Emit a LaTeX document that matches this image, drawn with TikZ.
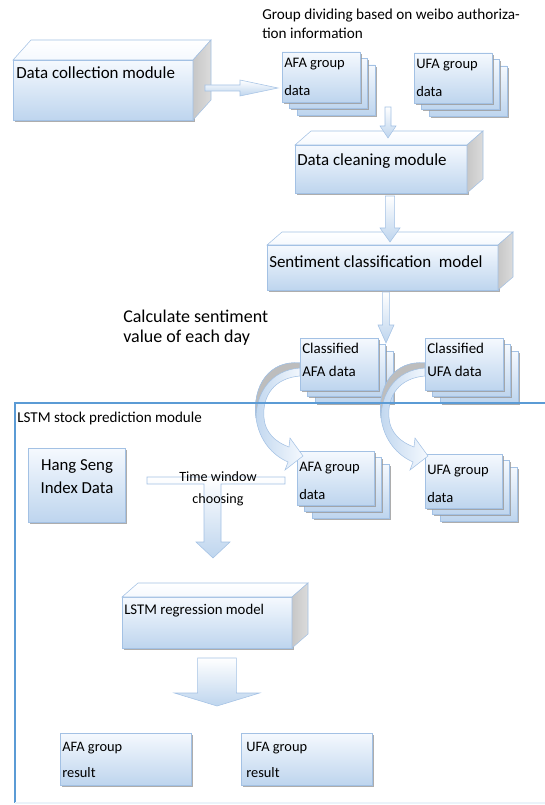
\documentclass[tikz,border=0pt]{standalone}
\usepackage{fontspec}
\setmainfont{Carlito}
\usetikzlibrary{calc,shadows}

\definecolor{boxtop}{HTML}{F5F9FE}
\definecolor{boxbot}{HTML}{BED5EE}
\definecolor{boxline}{HTML}{A3C1E4}
\definecolor{framebl}{HTML}{5B9BD5}
\definecolor{curlgray}{HTML}{BDBDBD}

\newcommand{\bigf}{\fontsize{12.7}{15}\selectfont}
\newcommand{\grpf}{\fontsize{10.9}{21}\selectfont}
\newcommand{\notef}{\fontsize{11.4}{14.25}\selectfont}

\newcommand{\blkarrow}[5]{%
  \coordinate (bah) at ($(#2)!#5!(#1)$) ;
  \draw [blockarrow] ($(#1)!#3!90:(#2)$) -- ($(bah)!#3!90:(#2)$) -- ($(bah)!#4!90:(#2)$) -- (#2)
    -- ($(bah)!#4!-90:(#2)$) -- ($(bah)!#3!-90:(#2)$) -- ($(#1)!#3!-90:(#2)$) -- cycle ;
}
\newcommand{\cubefaces}[3]{%
  \draw [topface] (#1.north west) -- ++(#2,-#3) -- ($(#1.north east)+(#2,-#3)$) -- (#1.north east) -- cycle ;
  \draw [sideface] (#1.north east) -- ++(#2,-#3) -- ($(#1.south east)+(#2,-#3)$) -- (#1.south east) -- cycle ;
}
\newcommand{\stackbox}[3]{%
  \node [groupbox, #3] (#1-3) at ($(#2)+(15,13)$) {} ;
  \node [groupbox, #3] (#1-2) at ($(#2)+(7.5,6.5)$) {} ;
  \node [groupbox, #3] (#1) at (#2) {} ;
}

\begin{document}
\begin{tikzpicture}[x=0.75pt, y=-0.75pt,
    groupbox/.style={draw=boxline, top color=boxtop, bottom color=boxbot, outer sep=0, inner sep=0,
      drop shadow={shadow xshift=1.2pt, shadow yshift=-1.2pt, fill=black!40, opacity=0.8}},
    gsize/.style={minimum width=58.5pt, minimum height=37.5pt},
    csize/.style={minimum width=58.5pt, minimum height=39pt},
    g2size/.style={minimum width=57.75pt, minimum height=40.5pt},
    topface/.style={draw=boxline, top color=white, bottom color=boxtop},
    sideface/.style={draw=boxline, left color=black!22, right color=black!14},
    blockarrow/.style={draw=boxline, top color=white, bottom color=boxbot},
    curlarrow/.style={draw=boxline, left color=boxbot, right color=boxtop},
    lbl/.style={inner sep=0, anchor=west, align=left}]
    \useasboundingbox (0,0) rectangle (544,805) ;

    \node [lbl, font=\notef] (note1) at (262,23.5) {Group dividing based on weibo authoriza-\\tion information} ;

    \node [groupbox, minimum width=135pt, minimum height=45pt] (collect) at (103,90) {} ;
    \cubefaces{collect}{18}{20}
    \node [lbl, font=\bigf] (collect-t) at (16,73) {Data collection module} ;

    \stackbox{afa1}{321,77}{gsize}
    \node [lbl, font=\grpf] (afa1-t) at (284,77) {AFA group\\data} ;
    \stackbox{ufa1}{453,78}{gsize}
    \node [lbl, font=\grpf] (ufa1-t) at (416,77.5) {UFA group\\data} ;

    \node [groupbox, minimum width=129pt, minimum height=36pt] (clean) at (381,169) {} ;
    \cubefaces{clean}{16}{14}
    \node [lbl, font=\bigf] (clean-t) at (297,161) {Data cleaning module} ;

    \node [groupbox, minimum width=173.25pt, minimum height=33.75pt] (senti) at (382.5,267.5) {} ;
    \cubefaces{senti}{15}{13}
    \node [lbl, font=\bigf] (senti-t) at (269,262) {Sentiment classification\ \ model} ;

    \node [lbl, font=\fontsize{13.5}{15}\selectfont] (note2) at (123,328) {Calculate sentiment\\value of each day} ;

    \stackbox{cafa}{339,364}{csize}
    \node [lbl, font=\fontsize{11.2}{17.25}\selectfont] (cafa-t) at (302,359.5) {Classified\\AFA data} ;
    \stackbox{cufa}{464,364}{csize}
    \node [lbl, font=\fontsize{11.2}{17.25}\selectfont] (cufa-t) at (427,359.5) {Classified\\UFA data} ;

    \coordinate (a1s) at ($(collect.east)+(12,-2)$) ;
    \coordinate (a1e) at ($(afa1.west)+(-4,11)$) ;
    \blkarrow{a1s}{a1e}{2.25pt}{6pt}{28.5pt}
    \coordinate (a2s) at ($(afa1.south east)+(28,5)$) ;
    \coordinate (a2e) at ($(clean.north)+(7,-7)$) ;
    \blkarrow{a2s}{a2e}{2.25pt}{6pt}{9pt}
    \coordinate (a3s) at ($(clean.south)+(9,3)$) ;
    \coordinate (a3e) at ($(senti.north)+(7.5,-3)$) ;
    \blkarrow{a3s}{a3e}{3.4pt}{7.5pt}{10.5pt}
    \coordinate (a4s) at ($(senti.south)+(3.5,2)$) ;
    \coordinate (a4e) at ($(cafa.north east)+(8,5)$) ;
    \blkarrow{a4s}{a4e}{2.6pt}{6pt}{13.5pt}

    \stackbox{afa2}{335.5,478}{g2size}
    \node [lbl, font=\grpf] (afa2-t) at (299,481) {AFA group\\data} ;
    \stackbox{ufa2}{463.5,481}{g2size}
    \node [lbl, font=\grpf] (ufa2-t) at (427,483.5) {UFA group\\data} ;

    \foreach \src in {cafa, cufa} {
      \begin{scope}[shift={(\src.west)}]
        \draw [curlarrow] (0,-1) .. controls (-30,-4) and (-48,21) .. (-44,54)
          .. controls (-41,76) and (-28,91) .. (-12,98) -- (-15,106) -- (3,92) -- (-10,74) -- (-11,83)
          .. controls (-25,78) and (-35,68) .. (-36,54) .. controls (-38,31) and (-25,14) .. (0,12) -- cycle ;
        \draw [fill=curlgray, draw=boxline] (0,-1) .. controls (-30,-4) and (-48,21) .. (-44,54)
          .. controls (-44,30) and (-30,6) .. (0,4) -- cycle ;
      \end{scope}
    }

    \draw [framebl, line width=2pt] (548,403) -- (15,403) -- (15,803) ;
    \draw [framebl!12, line width=1pt] (15,803) -- (548,803) ;
    \node [lbl, font=\fontsize{11.3}{14}\selectfont] (lstm-mod) at (17,418) {LSTM stock prediction module} ;

    \node [groupbox, minimum width=72.75pt, minimum height=55.5pt] (hang) at (76.5,485) {} ;
    \node [font=\fontsize{12.6}{17.25}\selectfont, align=center, inner sep=0] (hang-t) at (77,476.5) {Hang Seng\\Index Data} ;

    \node [groupbox, minimum width=127.5pt, minimum height=38.25pt] (lstm) at (207,622.5) {} ;
    \cubefaces{lstm}{16}{14}
    \node [lbl, font=\fontsize{11.1}{14}\selectfont] (lstm-t) at (124,611) {LSTM regression model} ;

    \coordinate (tl) at ($(hang.east)+(22,-8)$) ;
    \coordinate (tr) at ($(afa2.west)+(-12,-1)$) ;
    \coordinate (tb) at ($(lstm.north)+(6,-39)$) ;
    \draw [blockarrow] (tl) -- (tr) -- ++(0,7) -- ($(tb)+(8,-74)$) -- ($(tb)+(8,-16)$) -- ($(tb)+(17,-16)$) -- (tb)
      -- ($(tb)+(-17,-16)$) -- ($(tb)+(-9,-16)$) -- ($(tb)+(-9,-74)$) -- ($(tl)+(0,7)$) -- cycle ;
    \node [font=\fontsize{10.6}{16.5}\selectfont, align=center, inner sep=0] (time-t) at (218,489) {Time window\\choosing} ;

    \node [groupbox, minimum width=98.25pt, minimum height=39pt] (afar) at (125.5,759) {} ;
    \node [lbl, font=\fontsize{10.8}{19.5}\selectfont] (afar-t) at (62,760) {AFA group\\result} ;
    \node [groupbox, minimum width=98.25pt, minimum height=39pt] (ufar) at (306.5,759) {} ;
    \node [lbl, font=\fontsize{10.8}{19.5}\selectfont] (ufar-t) at (246,760) {UFA group\\result} ;

    \coordinate (a5s) at ($(lstm.south)+(10,10)$) ;
    \coordinate (a5e) at ($(afar.north east)+(26,-27)$) ;
    \blkarrow{a5s}{a5e}{14.6pt}{32pt}{9.75pt}
\end{tikzpicture}
\end{document}
